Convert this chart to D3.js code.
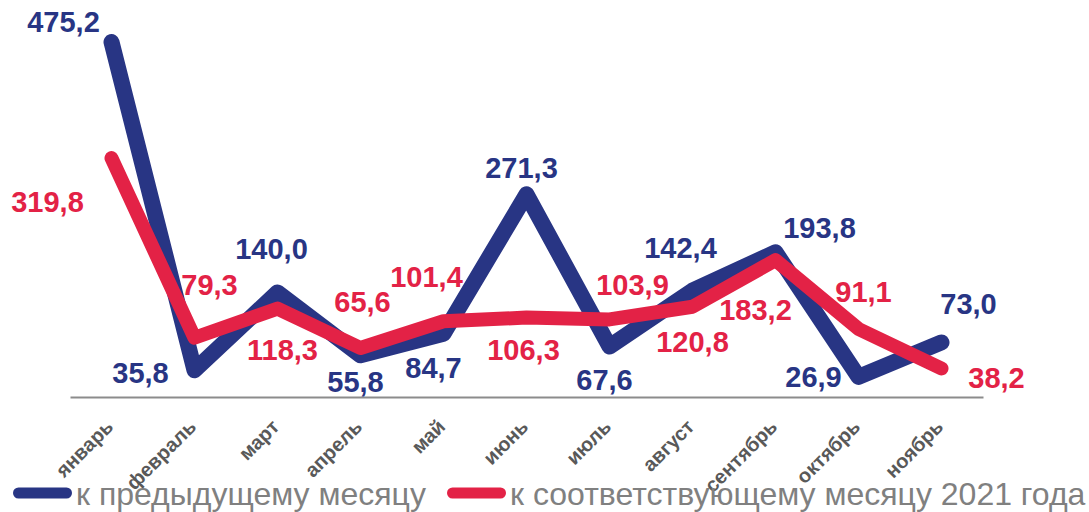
<!DOCTYPE html>
<html>
<head>
<meta charset="utf-8">
<script src="https://cdn.jsdelivr.net/npm/d3@7"></script>
<style>
  body { margin: 0; background: #fff; }
  svg { display: block; font-family: "Liberation Sans", Arial, sans-serif; }
</style>
</head>
<body>
<div id="viz"></div>
<script>
// size of the page
const width = 1089
const height = 512

// data
const months = ["январь", "февраль", "март", "апрель", "май", "июнь", "июль", "август", "сентябрь", "октябрь", "ноябрь"];
const prevMonth = [475.2, 35.8, 140.0, 55.8, 84.7, 271.3, 67.6, 142.4, 193.8, 26.9, 73.0];
const sameMonth2021 = [319.8, 79.3, 118.3, 65.6, 101.4, 106.3, 103.9, 120.8, 183.2, 91.1, 38.2];
const seriesNames = ["к предыдущему месяцу", "к соответствующему месяцу 2021 года"];

// label offsets from the point (dx = centre, dy = baseline)
const prevOffsets = [[-48, -10], [-54, 13], [-6, -33], [-5, 37], [-10, 44], [-5, -16], [-5, 43], [-12, -33], [44, -14], [-45, 10], [27, -28]];
const sameOffsets = [[-64, 54], [15, -43], [5, 51], [2, -36], [-17, -34], [-3, 42], [23, -24], [0, 45], [-20, 60], [5, -27], [55, 20]];

const blue = "#283584";
const red = "#e32246";

const svg = d3.select("#viz")
    .append("svg")
    .attr("width", width)
    .attr("height", height);

// x band scale along the axis line
const x = d3.scaleBand().domain(months).range([70, 983]);
const cx = function(d) { return x(d) + x.bandwidth() / 2 };

// y scale, zero sits on the axis line
const y = d3.scaleLinear().domain([0, 500]).range([397, 23.5]);

// axis
const xAxis = d3.axisBottom(x).tickSize(0).tickPadding(0);
const axisG = svg.append("g")
    .attr("transform", "translate(0,397)")
    .call(xAxis);
axisG.select(".domain").attr("stroke", "#8c8c8c").attr("stroke-width", 2);
axisG.selectAll(".tick text")
    .attr("fill", "#595959")
    .style("font", "bold 20px 'Liberation Sans', Arial, sans-serif")
    .attr("text-anchor", "end")
    .attr("dy", null)
    .attr("y", null)
    .attr("transform", "translate(3,31) rotate(-45)");

// lines
const series = [
    {name: seriesNames[0], values: prevMonth, color: blue, width: 16, offsets: prevOffsets},
    {name: seriesNames[1], values: sameMonth2021, color: red, width: 14, offsets: sameOffsets}
];

const line = d3.line()
    .x(function(d, i) { return cx(months[i]) })
    .y(function(d) { return y(d) });

series.forEach(function(s) {
    svg.append("path")
        .datum(s.values)
        .attr("d", line)
        .attr("fill", "none")
        .attr("stroke", s.color)
        .attr("stroke-width", s.width)
        .attr("stroke-linejoin", "round")
        .attr("stroke-linecap", "round");
});

// value labels
const fmt = function(v) { return d3.format(".1f")(v).replace(".", ",") };
series.forEach(function(s) {
    svg.append("g")
        .selectAll("text")
        .data(s.values)
        .enter()
        .append("text")
        .attr("x", function(d, i) { return cx(months[i]) + s.offsets[i][0] })
        .attr("y", function(d, i) { return y(d) + s.offsets[i][1] })
        .attr("text-anchor", "middle")
        .attr("fill", s.color)
        .style("font-weight", "bold")
        .style("font-size", "29px")
        .text(fmt);
});

// legend
const legendX = [13, 447];
const legend = svg.append("g");
series.forEach(function(s, i) {
    legend.append("line")
        .attr("x1", legendX[i] + 5.5)
        .attr("x2", legendX[i] + 53.5)
        .attr("y1", 493)
        .attr("y2", 493)
        .attr("stroke", s.color)
        .attr("stroke-width", 11)
        .attr("stroke-linecap", "round");
    legend.append("text")
        .attr("x", legendX[i] + 63)
        .attr("y", 505)
        .attr("fill", "#808080")
        .style("font-size", "32px")
        .text(s.name);
});
</script>
</body>
</html>
